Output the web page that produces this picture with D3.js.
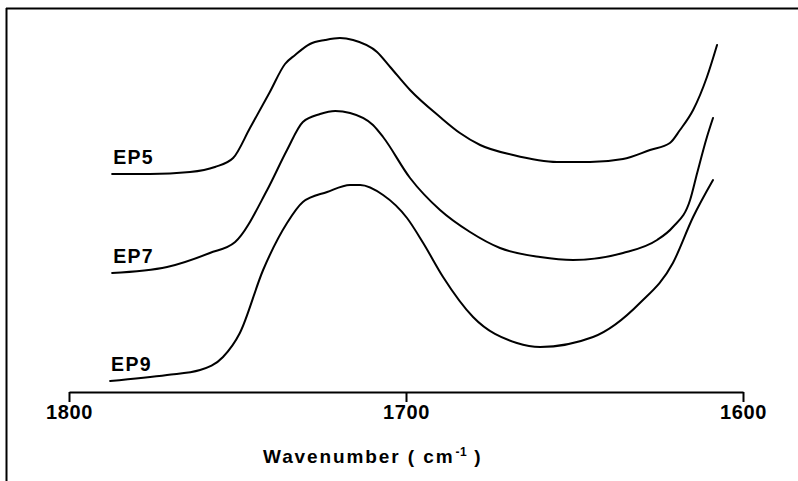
<!DOCTYPE html>
<html>
<head>
<meta charset="utf-8">
<script src="https://cdn.jsdelivr.net/npm/d3@7"></script>
<style>
  html, body { margin: 0; padding: 0; background: #fff; }
  svg { display: block; }
  text { font-family: "Liberation Sans", Arial, Helvetica, sans-serif; font-weight: bold; fill: #000; }
</style>
</head>
<body>
<div id="chart"></div>
<script>
// ---- Data (wavenumber in cm^-1, absorbance in arbitrary offset units) ----
const seriesNames = ["EP5", "EP7", "EP9"];
const tickValues = [1800, 1700, 1600];
const axisTitle = "Wavenumber ( cm";

const ep5Wn = [1787.2, 1776.0, 1764.1, 1756.7, 1751.3, 1746.3, 1740.4, 1735.9, 1732.9, 1728.5, 1724.0, 1719.6, 1715.7, 1708.6, 1704.7, 1698.8, 1689.9, 1684.0, 1678.0, 1668.2, 1655.2, 1645.4, 1635.6, 1627.6, 1621.7, 1618.7, 1614.8, 1610.7, 1607.7];
const ep5Abs = [2.17, 2.17, 2.19, 2.24, 2.33, 2.63, 2.99, 3.27, 3.36, 3.47, 3.51, 3.53, 3.51, 3.39, 3.24, 3.01, 2.74, 2.58, 2.46, 2.36, 2.29, 2.29, 2.32, 2.41, 2.48, 2.61, 2.81, 3.14, 3.46];

const ep7Wn = [1787.2, 1770.9, 1758.2, 1750.7, 1741.2, 1735.3, 1730.6, 1725.5, 1721.0, 1716.6, 1709.8, 1706.8, 1698.8, 1689.9, 1681.0, 1672.1, 1660.2, 1650.4, 1635.6, 1625.5, 1620.8, 1615.7, 1613.6, 1610.7, 1608.9];
const ep7Abs = [1.18, 1.24, 1.38, 1.49, 2.01, 2.41, 2.69, 2.77, 2.80, 2.78, 2.66, 2.54, 2.13, 1.81, 1.59, 1.43, 1.34, 1.31, 1.38, 1.51, 1.64, 1.91, 2.18, 2.54, 2.73];

const ep9Wn = [1787.8, 1770.9, 1761.1, 1754.3, 1749.3, 1742.4, 1735.3, 1730.6, 1723.4, 1716.6, 1713.6, 1706.8, 1699.7, 1694.9, 1689.0, 1680.1, 1667.1, 1660.2, 1644.5, 1630.6, 1620.8, 1614.8, 1608.9];
const ep9Abs = [0.10, 0.16, 0.21, 0.34, 0.58, 1.21, 1.68, 1.89, 1.99, 2.06, 2.06, 1.96, 1.73, 1.48, 1.14, 0.74, 0.48, 0.44, 0.54, 0.88, 1.28, 1.74, 2.11];

const W = 798, H = 481;
const svg = d3.select("#chart").append("svg").attr("width", W).attr("height", H);

const x = d3.scaleLinear().domain([1800, 1600]).range([69, 743]);
const y = d3.scaleLinear().domain([0, 3.5]).range([391, 41]);

// Frame (top and left border of the scanned figure)
svg.append("line").attr("x1", 6).attr("y1", 8.5).attr("x2", W).attr("y2", 8.5)
  .attr("stroke", "#000").attr("stroke-width", 2);
svg.append("line").attr("x1", 6.5).attr("y1", 8).attr("x2", 6.5).attr("y2", H)
  .attr("stroke", "#000").attr("stroke-width", 2);

// Spectra
const series = [
  { name: seriesNames[0], wn: ep5Wn, a: ep5Abs },
  { name: seriesNames[1], wn: ep7Wn, a: ep7Abs },
  { name: seriesNames[2], wn: ep9Wn, a: ep9Abs }
];
const line = d3.line().x(d => x(d[0])).y(d => y(d[1])).curve(d3.curveMonotoneX);
series.forEach(s => {
  const pts = s.wn.map((w, i) => [w, s.a[i]]);
  svg.append("path").datum(pts).attr("d", line)
    .attr("fill", "none").attr("stroke", "#000").attr("stroke-width", 2)
    .attr("stroke-linejoin", "round").attr("stroke-linecap", "round");
  // label just above the left start of each curve
  svg.append("text")
    .attr("x", x(s.wn[0]) + 1)
    .attr("y", y(s.a[0]) - 10)
    .attr("font-size", 19.5)
    .attr("letter-spacing", 1.3)
    .text(s.name);
});

// X axis
const axisY = 392;
const axis = d3.axisBottom(x).tickValues(tickValues).tickSize(10).tickSizeOuter(0).tickPadding(3)
  .tickFormat(d3.format("d"));
const gx = svg.append("g").attr("transform", `translate(0,${axisY})`).call(axis);
gx.select(".domain").attr("stroke", "#000").attr("stroke-width", 2);
gx.selectAll(".tick line").attr("stroke", "#000").attr("stroke-width", 2);
gx.selectAll(".tick text")
  .attr("font-family", "'Liberation Sans', Arial, sans-serif")
  .attr("font-weight", "bold").attr("font-size", 20).attr("letter-spacing", 0.6).attr("fill", "#000");

// Axis title with superscript
const title = svg.append("text").attr("x", 263).attr("y", 463).attr("font-size", 19).attr("letter-spacing", 1.9);
title.append("tspan").text(axisTitle);
title.append("tspan").attr("font-size", 12).attr("dy", -7).attr("dx", 1).attr("letter-spacing", 0.5).text("-1");
title.append("tspan").attr("dy", 7).text(" )");
</script>
</body>
</html>
